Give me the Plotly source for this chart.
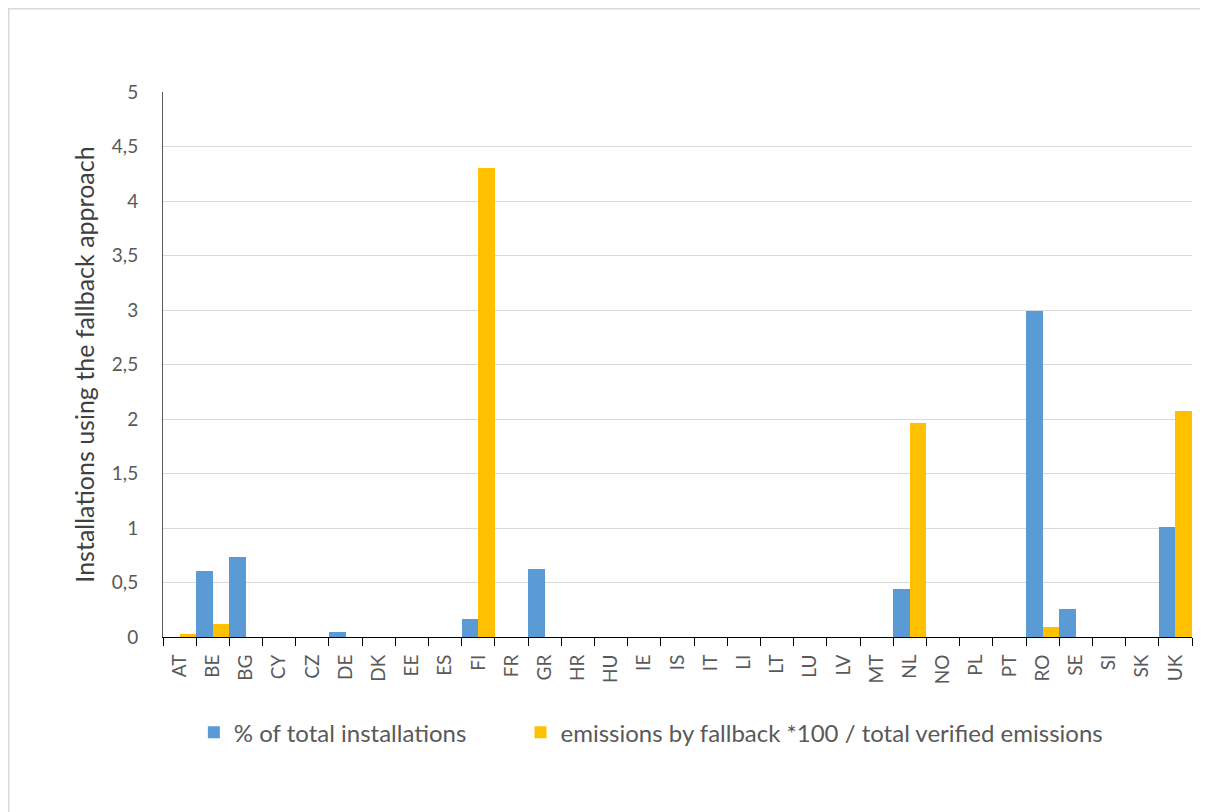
import plotly.graph_objects as go

countries = ["AT", "BE", "BG", "CY", "CZ", "DE", "DK", "EE", "ES", "FI", "FR", "GR",
             "HR", "HU", "IE", "IS", "IT", "LI", "LT", "LU", "LV", "MT", "NL", "NO",
             "PL", "PT", "RO", "SE", "SI", "SK", "UK"]
pct_installations = [0, 0.605, 0.73, 0, 0, 0.05, 0, 0, 0, 0.165, 0, 0.62,
                     0, 0, 0, 0, 0, 0, 0, 0, 0, 0, 0.44, 0,
                     0, 0, 2.99, 0.26, 0, 0, 1.01]
emissions_ratio = [0.03, 0.12, 0, 0, 0, 0, 0, 0, 0, 4.30, 0, 0,
                   0, 0, 0, 0, 0, 0, 0, 0, 0, 0, 1.96, 0,
                   0, 0, 0.095, 0, 0, 0, 2.07]

FONT = "Lato"
GREY = "#595959"

W, H = 1200, 804
L, T, PW, PH = 155, 84, 1029, 545

fig = go.Figure()
fig.add_trace(go.Bar(x=countries, y=pct_installations,
                     name="% of total installations" + "\u00a0" * 8,
                     marker=dict(color="#5B9BD5", line=dict(width=0))))
fig.add_trace(go.Bar(x=countries, y=emissions_ratio,
                     name="emissions by fallback *100 / total verified emissions",
                     marker=dict(color="#FFC000", line=dict(width=0))))

fig.update_layout(
    width=W, height=H,
    margin=dict(l=L, r=W - L - PW, t=T, b=H - T - PH),
    paper_bgcolor="white", plot_bgcolor="white",
    barmode="group", bargap=0, bargroupgap=0,
    separators=",.",
    font=dict(family=FONT, color=GREY, size=19),
    showlegend=True,
    legend=dict(orientation="h", x=0.03, xanchor="left", y=-0.134, yanchor="top",
                font=dict(size=24, color=GREY, family=FONT),
                bgcolor="rgba(0,0,0,0)"),
    xaxis=dict(type="category", tickangle=-90, tickson="boundaries", ticks="outside",
               ticklen=8, tickcolor="black", showline=True, linecolor="black",
               linewidth=1, showgrid=False, tickfont=dict(size=19, color=GREY),
               ticklabelstandoff=9),
    yaxis=dict(range=[0, 5], dtick=0.5, showline=True, linecolor="#595959", linewidth=1,
               showgrid=True, gridcolor="#d9d9d9", gridwidth=1, ticks="", zeroline=False,
               tickfont=dict(size=19, color=GREY), ticklabelstandoff=20,
               title=dict(text="Installations using the fallback approach",
                          font=dict(size=25, color="#404040"), standoff=10)),
    shapes=[dict(type="rect", xref="paper", yref="paper",
                 x0=-(L - 0.5) / PW, x1=1.2, y0=-0.6, y1=1 + (T - 0.5) / PH,
                 line=dict(color="#d9d9d9", width=2), fillcolor="rgba(0,0,0,0)", layer="below")],
)

fig.write_html("out.html")
